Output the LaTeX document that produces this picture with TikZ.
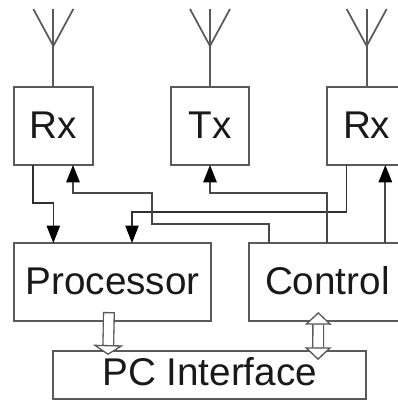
\documentclass[tikz,border=0pt]{standalone}
\usepackage{fontspec}
\setsansfont{Liberation Sans}
\usepackage{xcolor}
\usepackage{tikz}
\usetikzlibrary{arrows.meta, positioning, calc}

\definecolor{boxgray}{HTML}{5A5A5A}
\definecolor{wiregray}{HTML}{303030}

\begin{document}
\begin{tikzpicture}[
    node distance = 58.5pt and 58.5pt,
    font=\sffamily\fontsize{29pt}{31pt}\selectfont,
    box/.style={draw=boxgray, line width=1.35pt, minimum height=58.5pt, outer sep=0pt, inner sep=0pt, align=center, text=black!90, text height=21pt, text depth=2.5pt},
    radio/.style={box, minimum width=59pt},
    aerial/.style={draw=boxgray, line width=1.3pt},
    arrow/.style={-{Triangle[length=13pt, width=10pt, color=black]}, draw=wiregray, line width=0.8pt},
    feed/.style={arrow, draw=boxgray!80!black, line width=1.4pt},
    hollow/.style={double=white, draw=wiregray!80, line width=1pt, double distance=7pt}
]
\useasboundingbox (0,0) rectangle (298.5pt,-300.75pt);
\clip (0,0) rectangle (298.5pt,-300.75pt);

% Nodes
\node[radio, anchor=north west] (rxa) at (10.5pt,-65.25pt) {Rx};
\node[radio, right=of rxa] (txa) {Tx};
\node[radio, right=of txa] (rxb) {Rx};
\node[box, minimum width=148pt, below=of rxa.south west, anchor=north west] (proc) {Processor};
\node[box, minimum width=117pt, below=of txa.south east, anchor=north west] (ctrl) {Control};
\node[box, minimum height=36pt, minimum width=235pt, text depth=5pt, below=22.5pt of proc.south west, xshift=29.25pt, anchor=north west] (pci) {PC Interface};

% Antennas
\foreach \radio in {rxa,txa,rxb} {
  \coordinate (\radio foot) at ($(\radio.north)+(0,30.75pt)$);
  \draw[aerial] (\radio.north) -- (\radio foot) -- ++(0,27.75pt);
  \draw[aerial] (\radio foot) -- ++(-15pt,27.75pt);
  \draw[aerial] (\radio foot) -- ++(15pt,27.75pt);
}

% Ports
\coordinate (rxaout) at ([xshift=14.25pt]rxa.south west);
\coordinate (rxain) at ([xshift=44.25pt]rxa.south west);
\coordinate (rxbout) at ([xshift=14.25pt]rxb.south west);
\coordinate (rxbin) at ([xshift=43.5pt]rxb.south west);
\coordinate (procina) at (proc.north -| rxa.south);
\coordinate (procinb) at ([xshift=88.5pt]proc.north west);
\coordinate (ctrlina) at ([xshift=15pt]ctrl.north west);
\coordinate (ctrlinb) at ([xshift=58.5pt]ctrl.north west);
\coordinate (procout) at ([xshift=71.25pt,yshift=6.75pt]proc.south west);
\coordinate (pciin) at ([xshift=41.25pt,yshift=-3pt]pci.north west);
\coordinate (ctrlout) at ([xshift=51.75pt,yshift=6.75pt]ctrl.south west);
\coordinate (pciout) at ([xshift=198.75pt,yshift=-6.75pt]pci.north west);

% Edges
\draw[arrow] (rxaout) -- ++(0,-28.5pt) -| (procina);
\draw[arrow] (rxbout) -- ++(0,-35.25pt) -| (procinb);
\draw[feed] (ctrlina) -- ++(0,14.25pt) -- ++(-87.75pt,0) -- ++(0,23.25pt) -| (rxain);
\draw[feed] (ctrlinb) -- ++(0,37.5pt) -| (txa.south);
\draw[feed] (ctrl.north -| rxbin) -- (rxbin);

\draw[hollow, {Bar[width=9pt]}-{Triangle[open, fill=white, length=7.5pt, width=23pt]}] (procout) -- (pciin);
\draw[hollow, {Triangle[open, fill=white, length=9.5pt, width=20pt]}-{Triangle[open, fill=white, length=9.5pt, width=20pt]}] (ctrlout) -- (pciout);

\end{tikzpicture}
\end{document}
